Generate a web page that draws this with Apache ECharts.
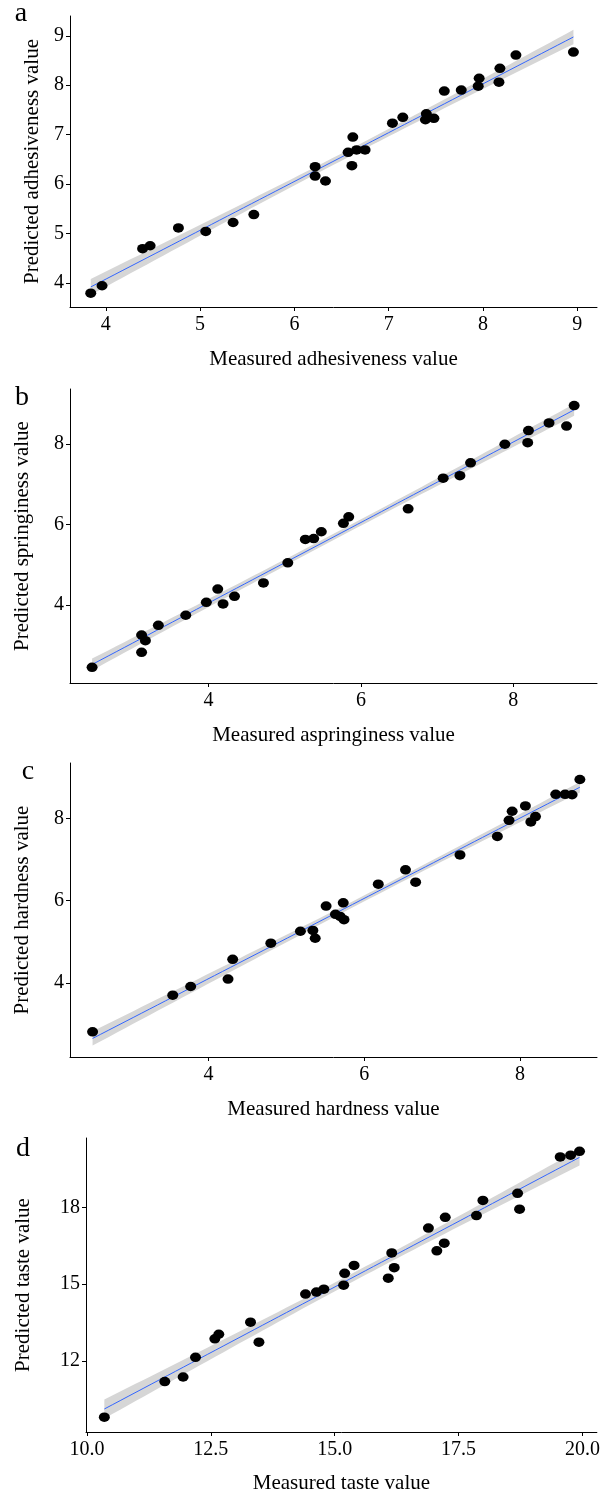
<!DOCTYPE html>
<html>
<head>
<meta charset="utf-8">
<script src="https://cdn.jsdelivr.net/npm/echarts@6/dist/echarts.min.js"></script>
<style>
  html, body { margin: 0; padding: 0; background: #fff; }
  #chart { width: 603px; height: 1495px; }
</style>
</head>
<body>
<div id="chart"></div>
<script>
// a - adhesiveness
var adhX = [3.84, 3.96, 4.39, 4.47, 4.77, 5.06, 5.35, 5.57, 6.22, 6.22, 6.33, 6.61, 6.57, 6.62, 6.66,
            6.75, 7.04, 7.15, 7.40, 7.39, 7.48, 7.59, 7.77, 7.95, 7.96, 8.17, 8.18, 8.35, 8.96];
var adhY = [3.79, 3.94, 4.69, 4.75, 5.11, 5.04, 5.22, 5.38, 6.35, 6.16, 6.06, 6.37, 6.64, 6.95, 6.69,
            6.69, 7.23, 7.35, 7.42, 7.30, 7.33, 7.88, 7.90, 7.98, 8.14, 8.06, 8.34, 8.61, 8.67];
var adhTicks = [4, 5, 6, 7, 8, 9];

// b - springiness
var sprX = [2.47, 3.12, 3.12, 3.17, 3.34, 3.70, 3.97, 4.12, 4.19, 4.34, 4.72, 5.04, 5.27, 5.38,
            5.48, 5.77, 5.84, 6.62, 7.08, 7.30, 7.44, 7.89, 8.19, 8.20, 8.47, 8.70, 8.80];
var sprY = [2.46, 3.26, 2.83, 3.12, 3.50, 3.75, 4.07, 4.40, 4.03, 4.22, 4.55, 5.05, 5.63, 5.65,
            5.82, 6.03, 6.19, 6.39, 7.15, 7.21, 7.53, 7.99, 8.03, 8.33, 8.52, 8.44, 8.95];
var sprTicks = [4, 6, 8];

// c - hardness
var hardX = [2.51, 3.54, 3.77, 4.25, 4.31, 4.80, 5.18, 5.34, 5.37, 5.51, 5.63, 5.69, 5.74, 5.73,
             6.18, 6.53, 6.66, 7.23, 7.71, 7.86, 7.90, 8.07, 8.14, 8.20, 8.46, 8.58, 8.67, 8.77];
var hardY = [2.82, 3.71, 3.92, 4.10, 4.58, 4.97, 5.26, 5.28, 5.09, 5.87, 5.67, 5.62, 5.54, 5.95,
             6.40, 6.75, 6.45, 7.11, 7.56, 7.95, 8.17, 8.30, 7.91, 8.04, 8.58, 8.58, 8.57, 8.94];
var hardTicks = [4, 6, 8];

// d - taste
var tasteX = [10.35, 11.57, 11.94, 12.19, 12.58, 12.66, 13.30, 13.47, 14.41, 14.63, 14.78, 15.18, 15.20, 15.39,
              16.08, 16.15, 16.20, 16.89, 17.06, 17.21, 17.23, 17.86, 17.99, 18.69, 18.73, 19.55, 19.76, 19.94];
var tasteY = [9.80, 11.19, 11.37, 12.14, 12.86, 13.04, 13.51, 12.73, 14.61, 14.69, 14.80, 14.96, 15.42, 15.73,
              15.23, 16.22, 15.64, 17.19, 16.30, 16.60, 17.61, 17.68, 18.27, 18.55, 17.93, 19.97, 20.04, 20.19];
var tasteXTicks = [10, 12.5, 15, 17.5, 20];
var tasteYTicks = [12, 15, 18];

var FONT = 'Liberation Serif';

// least squares fit + 95% confidence band, like geom_smooth(method = lm)
function lmFit(xs, ys) {
   var n = xs.length, mx = 0, my = 0;
   for (var i = 0; i < n; i++) { mx += xs[i]; my += ys[i]; }
   mx /= n; my /= n;
   var sxx = 0, sxy = 0;
   for (i = 0; i < n; i++) { sxx += (xs[i] - mx) * (xs[i] - mx); sxy += (xs[i] - mx) * (ys[i] - my); }
   var b = sxy / sxx, a = my - b * mx, sse = 0;
   for (i = 0; i < n; i++) { var r = ys[i] - (a + b * xs[i]); sse += r * r; }
   var s = Math.sqrt(sse / (n - 2)), t = 2.05;
   var lo = Math.min.apply(null, xs), hi = Math.max.apply(null, xs);
   var line = [], upper = [], lower = [];
   for (var k = 0; k <= 60; k++) {
      var x = lo + (hi - lo) * k / 60;
      var yh = a + b * x;
      var se = s * Math.sqrt(1 / n + (x - mx) * (x - mx) / sxx);
      line.push([x, yh]);
      upper.push([x, yh + t * se]);
      lower.push([x, yh - t * se]);
   }
   return {line: line, upper: upper, lower: lower};
}

var layout = [
   {label: 'a', xs: adhX, ys: adhY, xt: adhTicks, yt: adhTicks, xr: [3.62, 9.21], yr: [3.51, 9.40],
    xName: 'Measured adhesiveness value', yName: 'Predicted adhesiveness value',
    left: 70, top: 16, height: 291, yGap: 27, xGap: 42, lx: 21, ly: 14},
   {label: 'b', xs: sprX, ys: sprY, xt: sprTicks, yt: sprTicks, xr: [2.18, 9.10], yr: [2.07, 9.36],
    xName: 'Measured aspringiness value', yName: 'Predicted springiness value',
    left: 70, top: 389, height: 294, yGap: 37, xGap: 42, lx: 22, ly: 398},
   {label: 'c', xs: hardX, ys: hardY, xt: hardTicks, yt: hardTicks, xr: [2.22, 8.99], yr: [2.21, 9.34],
    xName: 'Measured hardness value', yName: 'Predicted hardness value',
    left: 70, top: 763, height: 294, yGap: 37, xGap: 42, lx: 28, ly: 772},
   {label: 'd', xs: tasteX, ys: tasteY, xt: tasteXTicks, yt: tasteYTicks, xr: [9.98, 20.29], yr: [9.22, 20.71],
    xName: 'Measured taste value', yName: 'Predicted taste value',
    left: 86, top: 1138, height: 294, yGap: 52, xGap: 41, lx: 23, ly: 1149, fixed: true}
];

var grids = [], xAxes = [], yAxes = [], series = [], graphics = [];

layout.forEach(function (p, i) {
   var f = lmFit(p.xs, p.ys);
   grids.push({left: p.left, right: 6, top: p.top, height: p.height});

   var axisCommon = {
      type: 'value',
      gridIndex: i,
      splitLine: {show: false},
      axisLine: {show: true, onZero: false, lineStyle: {color: '#000', width: 1}},
      nameLocation: 'middle',
      nameTextStyle: {color: '#000', fontFamily: FONT, fontSize: 21}
   };
   xAxes.push(Object.assign({}, axisCommon, {
      min: p.xr[0], max: p.xr[1],
      name: p.xName, nameGap: p.xGap,
      axisTick: {show: true, length: 4, customValues: p.xt, lineStyle: {color: '#000'}},
      axisLabel: {customValues: p.xt, color: '#000', fontFamily: FONT, fontSize: 20, margin: 8,
                  formatter: function (v) { return p.fixed ? v.toFixed(1) : String(v); }}
   }));
   yAxes.push(Object.assign({}, axisCommon, {
      min: p.yr[0], max: p.yr[1],
      name: p.yName, nameGap: p.yGap,
      axisTick: {show: true, length: 4, customValues: p.yt, lineStyle: {color: '#000'}},
      axisLabel: {customValues: p.yt, color: '#000', fontFamily: FONT, fontSize: 20, margin: 6}
   }));

   // confidence ribbon
   series.push({
      type: 'custom',
      xAxisIndex: i, yAxisIndex: i,
      silent: true, z: 1,
      data: [f.line[0]],
      renderItem: function (params, api) {
         var pts = f.upper.map(function (d) { return api.coord(d); });
         var low = f.lower.map(function (d) { return api.coord(d); }).reverse();
         return {type: 'polygon', shape: {points: pts.concat(low)}, style: {fill: '#d6d6d6'}};
      }
   });
   series.push({
      type: 'line',
      xAxisIndex: i, yAxisIndex: i,
      data: f.line, showSymbol: false, z: 2,
      lineStyle: {color: '#3366FF', width: 1}
   });
   series.push({
      type: 'scatter',
      xAxisIndex: i, yAxisIndex: i,
      data: p.xs.map(function (x, k) { return [x, p.ys[k]]; }),
      symbolSize: [11, 9.5], z: 3,
      itemStyle: {color: '#000', opacity: 1}
   });

   graphics.push({
      type: 'text', x: p.lx, y: p.ly,
      style: {text: p.label, fill: '#000', font: '28px "Liberation Serif"', textAlign: 'center', textVerticalAlign: 'middle'}
   });
});

var myChart = echarts.init(document.getElementById('chart'));
myChart.setOption({
   animation: false,
   backgroundColor: '#fff',
   grid: grids,
   xAxis: xAxes,
   yAxis: yAxes,
   series: series,
   graphic: graphics
});
</script>
</body>
</html>
